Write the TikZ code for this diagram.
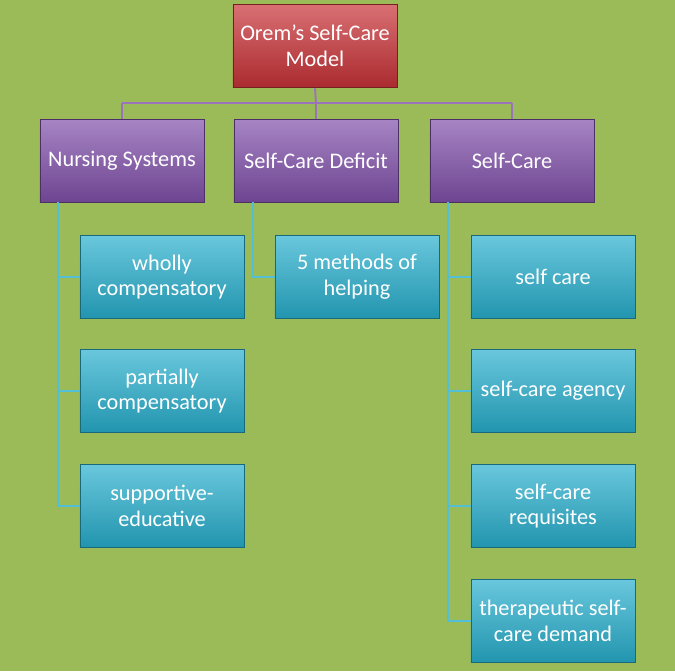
\documentclass[tikz,border=0pt]{standalone}
\usepackage{fontspec}
\setmainfont{Carlito}
\definecolor{redc}{RGB}{200,50,55}
\definecolor{purc}{RGB}{128,80,170}
\definecolor{bluc}{RGB}{40,175,205}
\definecolor{bgc}{RGB}{155,187,89}
\begin{document}
\begin{tikzpicture}[x=0.03cm,y=-0.03cm,
  bx/.style={minimum width=165*0.03cm-0.8pt, minimum height=84*0.03cm-0.8pt, align=center,
    text=white, font=\fontsize{19}{22}\selectfont, inner sep=1pt, draw=#1!60!black, line width=0.8pt,
    top color=#1!70!white, bottom color=#1!85!black},
  redbox/.style={bx=redc},
  purp/.style={bx=purc},
  blu/.style={bx=bluc},
  ln/.style={draw=purc!80!white, line width=1.6pt},
  bln/.style={draw=bluc!80!white, line width=1.6pt}]
\fill[bgc] (0,0) rectangle (675,671);
\coordinate (h) at (316,103);
\node[redbox] (top) at (315,46) {Orem{\char"27}s Self-Care\\Model};
\node[purp] (ns) at (122,161) {Nursing Systems};
\node[purp] (sd) at (316,161) {Self-Care Deficit};
\node[purp] (sc) at (512,161) {Self-Care};
\coordinate (hl) at (122,103); \coordinate (hr) at (512,103);
\node[blu] (w) at (162,277) {wholly\\compensatory};
\node[blu] (p) at (162,391) {partially\\compensatory};
\node[blu] (s) at (162,506) {supportive-\\educative};
\node[blu] (m) at (357,277) {5 methods of\\helping};
\node[blu] (r1) at (553,277) {self care};
\node[blu] (r2) at (553,391) {self-care agency};
\node[blu] (r3) at (553,506) {self-care\\requisites};
\node[blu] (r4) at (553,621) {therapeutic self-\\care demand};
\coordinate (lx) at (58,202); \coordinate (mx) at (253,202); \coordinate (rx) at (448,202);
\draw[ln] (top.south) -- (h);
\draw[ln] (hl) -- (hr);
\draw[ln] (hl) -- (ns.north);
\draw[ln] (h) -- (sd.north);
\draw[ln] (hr) -- (sc.north);
\draw[bln] (lx) |- (w.west); \draw[bln] (lx) |- (p.west); \draw[bln] (lx) |- (s.west);
\draw[bln] (mx) |- (m.west);
\draw[bln] (rx) |- (r1.west); \draw[bln] (rx) |- (r2.west); \draw[bln] (rx) |- (r3.west); \draw[bln] (rx) |- (r4.west);
\end{tikzpicture}
\end{document}
